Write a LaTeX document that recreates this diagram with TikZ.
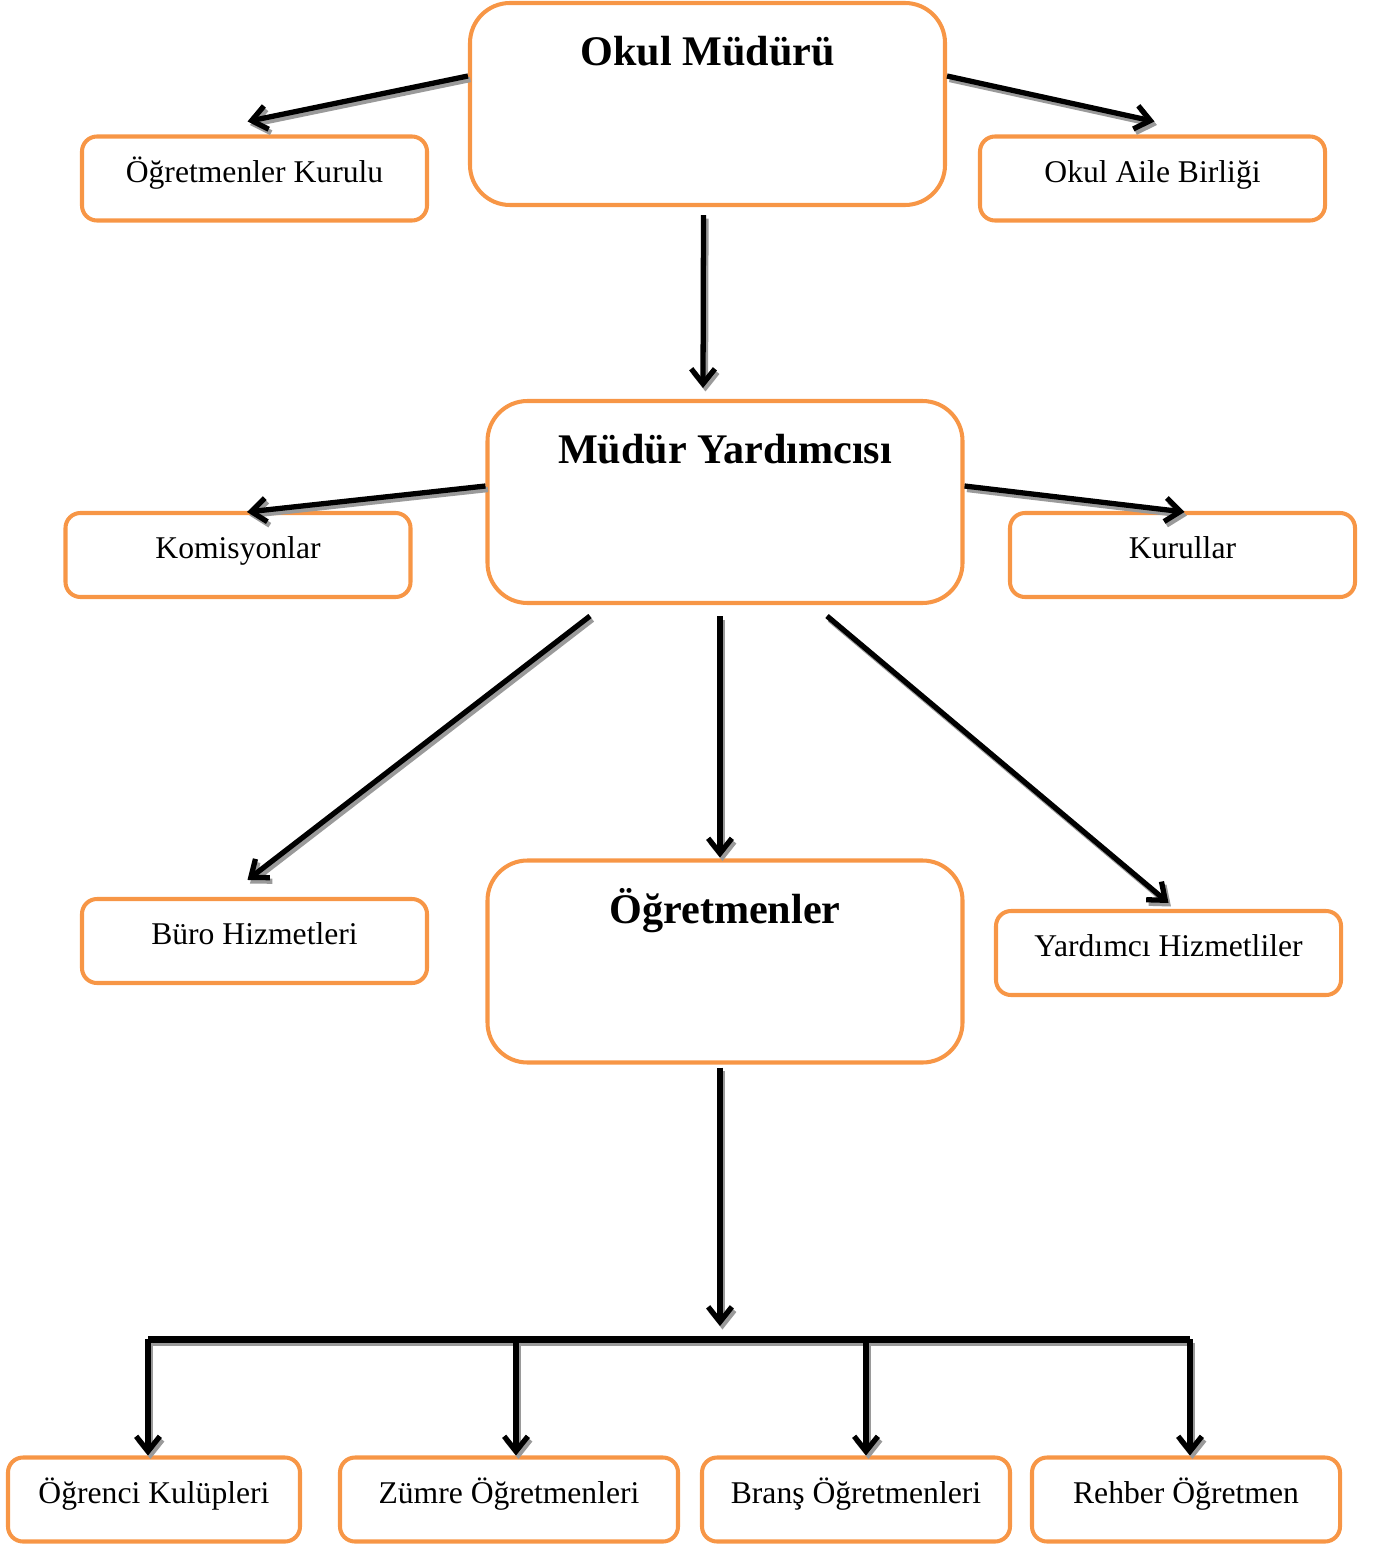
\documentclass[tikz,border=0pt]{standalone}
\usepackage{fontspec}
\setmainfont{Liberation Serif}
\usetikzlibrary{arrows.meta,calc}
\definecolor{boxorange}{HTML}{F79646}
\definecolor{shadowgray}{HTML}{9A9A9A}

\begin{document}
\begin{tikzpicture}
			[x=0.2mm,y=-0.2mm,
			box/.style={draw=boxorange, line width=2.3pt, rounded corners=3mm, minimum height=16.8mm, text height=10pt, text depth=5.5pt, font=\fontsize{18}{21}\selectfont},
			bigbox/.style={draw=boxorange, line width=2.3pt, rounded corners=8mm, minimum width=95mm, minimum height=40.4mm},
			titletext/.style={font=\bfseries\fontsize{24}{28}\selectfont, anchor=base, yshift=-13mm},
			shadowed/.style={preaction={draw=shadowgray, line width=#1, transform canvas={shift={(1.4pt,-2pt)}}}},
			arr/.style={-{Straight Barb[length=8.5pt,width=13.5pt]}, line width=3pt, shadowed=3pt}]
			\useasboundingbox (0,0) rectangle (1374,1545);

			% top level
			\node[bigbox, label={[titletext]north:Okul Müdürü}] (om) at (707.5,104) {};
			\node[box, minimum width=69mm] (ok) at (254.5,178.5) {Öğretmenler Kurulu};
			\node[box, minimum width=69mm] (oab) at (1152.5,178.5) {Okul Aile Birliği};

			% second level
			\node[bigbox, label={[titletext]north:Müdür Yardımcısı}] (my) at (725,502) {};
			\node[box, minimum width=69mm] (kom) at (238,555) {Komisyonlar};
			\node[box, minimum width=69mm] (kur) at (1182.5,555) {Kurullar};

			% third level
			\node[box, minimum width=69mm] (buro) at (254.5,941) {Büro Hizmetleri};
			\node[bigbox, label={[titletext]north:Öğretmenler}] (ogr) at (725,961.5) {};
			\node[box, minimum width=69mm] (yh) at (1168.5,953) {Yardımcı Hizmetliler};

			% bottom row
			\node[box, minimum width=58.4mm] (k1) at (154,1499.5) {Öğrenci Kulüpleri};
			\node[box, minimum width=67.6mm] (k2) at (509,1499.5) {Zümre Öğretmenleri};
			\node[box, minimum width=61.6mm] (k3) at (856,1499.5) {Branş Öğretmenleri};
			\node[box, minimum width=61.6mm] (k4) at (1186,1499.5) {Rehber Öğretmen};

			\draw[arr] ($(om.west)+(0,-28)$) -- ($(ok.north)+(-7,-13)$);
			\draw[arr] ($(om.east)+(0,-28)$) -- ($(oab.north)+(2,-13)$);
			\draw[arr] ($(om.south)+(-4,8)$) -- ($(my.north)+(-22,-11)$);
			\draw[arr] ($(my.west)+(0,-16)$) -- ($(kom.north)+(9,1)$);
			\draw[arr] ($(my.east)+(0,-16)$) -- ($(kur.north)+(2,1)$);
			\draw[arr] ($(my.south)+(-135,11)$) -- ($(buro.north)+(-7,-17)$);
			\draw[arr] ($(my.south)+(-5,11)$) -- ($(ogr.north)+(-5,-1)$);
			\draw[arr] ($(my.south)+(102,11)$) -- ($(yh.north)+(0,-6)$);

			\coordinate (hub) at (720,1326);
			\draw[arr] ($(ogr.south)+(-5,3)$) -- (hub);

			\coordinate (b1) at (148,1339);
			\coordinate (b2) at (516,1339);
			\coordinate (b3) at (866,1339);
			\coordinate (b4) at (1190,1339);
			\draw[line width=4pt, shadowed=4pt] (b1) -- (b4);
			\foreach \from/\to in {b1/k1,b2/k2,b3/k3,b4/k4}
			\draw[arr] (\from) -- (\from |- \to.north);
		\end{tikzpicture}
\end{document}
